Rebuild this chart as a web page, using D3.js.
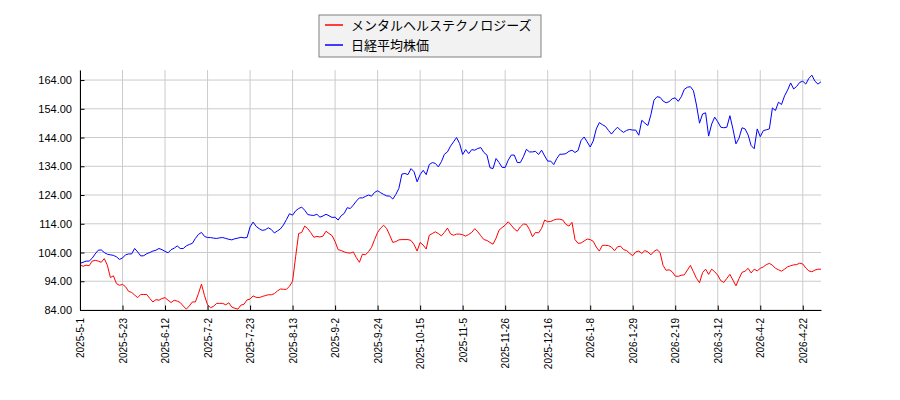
<!DOCTYPE html>
<html>
<head>
<meta charset="utf-8">
<script src="https://cdn.jsdelivr.net/npm/d3@7"></script>
<style>
  body { margin: 0; background: #fff; }
  svg { display: block; font-family: "DejaVu Sans", sans-serif; }
</style>
</head>
<body>
<div id="chart"></div>
<script>
// trading-day index on the x axis, one tick label every 14 sessions
const tickIndex = [0, 14, 28, 42, 56, 70, 84, 98, 112, 126, 140, 154, 168, 182, 196, 210, 224, 238]
const tickLabels = ['2025-5-1', '2025-5-23', '2025-6-12', '2025-7-2', '2025-7-23', '2025-8-13',
  '2025-9-2', '2025-9-24', '2025-10-15', '2025-11-5', '2025-11-26', '2025-12-16',
  '2026-1-8', '2026-1-29', '2026-2-19', '2026-3-12', '2026-4-2', '2026-4-22']
const yTicks = [84, 94, 104, 114, 124, 134, 144, 154, 164]

const seriesNames = ['メンタルヘルステクノロジーズ', '日経平均株価']
const seriesColors = ['#ff0000', '#0000ff']

const mentalHealth = [
  99.8, 99.2, 99.6, 99.4, 101.0, 101.3, 101.0, 100.6, 101.9, 99.6,
  95.3, 95.9, 93.2, 92.6, 92.9, 92.1, 90.5, 90.1, 89.2, 88.3,
  89.4, 89.4, 89.4, 88.0, 86.8, 87.6, 87.4, 88.0, 88.3, 87.4,
  86.6, 87.4, 87.1, 86.6, 85.4, 84.3, 85.4, 86.8, 86.8, 89.7,
  93.0, 89.0, 85.8, 84.8, 85.3, 86.3, 86.3, 86.3, 85.8, 86.5,
  85.0, 84.6, 84.3, 85.7, 86.0, 87.5, 87.8, 88.9, 88.4, 88.3,
  88.7, 89.0, 89.3, 89.3, 89.7, 90.6, 91.3, 91.2, 91.2, 92.3,
  94.0, 102.5, 110.6, 111.0, 113.2, 112.3, 110.9, 109.3, 109.6, 109.4,
  109.7, 111.4, 110.6, 109.9, 107.8, 105.0, 104.7, 104.2, 103.9, 103.8,
  104.2, 102.2, 100.6, 103.4, 103.2, 104.3, 105.8, 108.5, 111.0, 112.5,
  113.5, 112.3, 110.0, 107.5, 107.8, 108.4, 108.5, 108.5, 108.5, 108.2,
  106.8, 104.5, 107.5, 106.6, 105.2, 110.0, 110.6, 111.2, 110.6, 109.8,
  111.0, 112.5, 110.5, 110.0, 110.4, 110.4, 110.2, 109.7, 110.3, 111.0,
  112.3, 111.2, 109.8, 108.5, 108.2, 107.5, 106.9, 109.0, 111.8, 112.7,
  113.5, 114.7, 113.5, 112.2, 111.4, 112.9, 113.9, 113.8, 112.0, 109.5,
  111.0, 110.8, 112.4, 115.3, 114.7, 114.8, 115.3, 115.6, 115.6, 115.3,
  113.8, 113.2, 114.5, 108.5, 107.2, 107.3, 108.0, 108.7, 108.5, 107.9,
  105.9, 104.5, 106.5, 106.5, 106.4, 105.9, 104.6, 106.0, 106.2, 105.0,
  104.7, 103.7, 102.9, 104.2, 104.5, 103.7, 104.7, 104.2, 103.2, 104.4,
  105.0, 104.0, 99.5, 97.8, 98.0, 97.3, 95.8, 95.7, 96.1, 96.2,
  97.9, 99.5, 97.3, 95.0, 93.5, 97.0, 98.2, 96.4, 98.2, 97.3,
  96.1, 94.2, 93.6, 95.0, 96.4, 94.4, 92.4, 94.9, 97.1, 97.5,
  98.5, 96.9, 98.2, 97.6, 98.5, 99.0, 99.8, 100.2, 99.6, 98.5,
  98.0, 97.5, 98.2, 99.0, 99.4, 99.7, 99.8, 100.3, 100.0, 98.6,
  97.6, 97.3, 97.9, 98.2, 98.2
]

const nikkei = [
  100.2, 100.6, 101.0, 101.0, 102.0, 103.5, 104.8, 104.9, 104.0, 103.4,
  103.2, 103.0, 102.5, 101.6, 102.1, 103.2, 103.5, 103.5, 105.4, 104.2,
  102.8, 102.9, 103.6, 104.0, 104.5, 104.8, 105.4, 105.0, 104.4, 103.9,
  105.0, 105.5, 106.3, 105.4, 105.4, 106.3, 106.8, 107.2, 108.9, 110.3,
  111.0, 109.6, 109.2, 109.2, 109.0, 108.9, 109.1, 109.2, 108.9, 108.6,
  108.4, 108.8, 109.0, 109.3, 109.1, 109.2, 112.9, 114.6, 113.1, 112.3,
  111.7, 111.9, 112.6, 112.0, 110.8, 111.5, 112.2, 113.6, 115.5, 117.5,
  117.0, 118.5, 119.3, 119.8, 118.7, 117.2, 117.0, 116.9, 117.3, 116.3,
  116.7, 117.3, 116.8, 116.2, 116.3, 115.3, 116.8, 117.6, 119.6, 119.3,
  120.5, 121.9, 123.0, 123.0, 123.5, 124.0, 123.6, 124.9, 125.5, 124.8,
  124.2, 123.7, 123.6, 122.6, 124.2, 126.3, 131.3, 131.5, 131.1, 133.2,
  132.1, 128.6, 131.1, 132.6, 131.1, 134.6, 135.3, 135.0, 133.8, 135.6,
  138.2, 139.0, 141.0, 142.5, 144.0, 141.9, 138.1, 139.8, 138.4, 139.8,
  139.6, 140.2, 140.5, 138.8, 137.9, 133.5, 133.2, 136.7, 135.3, 133.6,
  133.6, 136.1, 137.9, 137.9, 135.3, 135.3, 137.3, 139.9, 139.0, 139.0,
  139.2, 138.1, 139.6, 137.6, 135.8, 135.8, 134.6, 136.7, 138.2, 138.2,
  138.4, 139.2, 139.6, 138.8, 139.5, 143.0, 144.2, 142.5, 140.7, 142.8,
  147.0, 149.2, 148.5, 147.9, 146.5, 145.2, 146.5, 147.6, 146.5, 145.8,
  146.5, 146.8, 146.6, 146.6, 144.8, 150.0, 149.0, 148.2, 152.0, 157.0,
  158.2, 158.0, 156.7, 156.1, 156.5, 157.5, 157.8, 156.6, 158.2, 160.8,
  161.5, 161.7, 160.3, 155.3, 149.0, 152.2, 152.6, 144.5, 148.7, 151.1,
  149.5, 147.6, 147.4, 147.6, 151.6, 147.0, 141.8, 143.8, 147.4, 147.0,
  144.9, 141.2, 140.1, 147.0, 144.3, 146.4, 146.7, 147.0, 154.3, 153.4,
  156.3, 155.5, 158.5, 160.5, 163.0, 160.9, 161.8, 163.2, 163.6, 162.6,
  164.6, 165.7, 163.6, 162.6, 163.4
]

const width = 900
const height = 400
const margin = { top: 70, right: 79, bottom: 90, left: 80 }

const svg = d3.select('#chart')
  .append('svg')
  .attr('width', width)
  .attr('height', height)

const x = d3.scaleLinear()
  .domain([0, nikkei.length - 1])
  .range([margin.left, width - margin.right])

const y = d3.scaleLinear()
  .domain([84, 167.5])
  .range([height - margin.bottom, margin.top])

// grid
svg.append('g')
  .selectAll('line')
  .data(tickIndex)
  .enter()
  .append('line')
  .attr('x1', d => x(d)).attr('x2', d => x(d))
  .attr('y1', margin.top).attr('y2', height - margin.bottom)
  .attr('stroke', '#cbcbcb')
  .attr('stroke-width', 1)

svg.append('g')
  .selectAll('line')
  .data(yTicks)
  .enter()
  .append('line')
  .attr('x1', margin.left).attr('x2', width - margin.right)
  .attr('y1', d => y(d)).attr('y2', d => y(d))
  .attr('stroke', '#cbcbcb')
  .attr('stroke-width', 1)

const line = d3.line()
  .x((d, i) => x(i))
  .y(d => y(d))

const seriesData = [mentalHealth, nikkei]
seriesData.forEach((values, k) => {
  svg.append('path')
    .datum(values)
    .attr('fill', 'none')
    .attr('stroke', seriesColors[k])
    .attr('stroke-width', 1)
    .attr('stroke-linejoin', 'round')
    .attr('d', line)
})

// axes, ticks point into the plot
const yAxis = svg.append('g')
  .attr('transform', `translate(${margin.left},0)`)
  .call(d3.axisLeft(y).tickValues(yTicks).tickFormat(d3.format('.2f')).tickSize(-4.5).tickSizeOuter(0).tickPadding(8))
yAxis.select('.domain').attr('stroke', '#000')
yAxis.selectAll('text').attr('font-size', 11).attr('fill', '#000')

const xAxis = svg.append('g')
  .attr('transform', `translate(0,${height - margin.bottom})`)
  .call(d3.axisBottom(x).tickValues(tickIndex).tickFormat((d, i) => tickLabels[i]).tickSize(-4.5).tickSizeOuter(0))
xAxis.select('.domain').attr('stroke', '#000')
xAxis.selectAll('text')
  .attr('font-size', 10)
  .attr('fill', '#000')
  .attr('x', 0)
  .attr('y', 0)
  .attr('dy', '0.35em')
  .attr('text-anchor', 'end')
  .attr('transform', 'translate(0,8) rotate(-90)')

// legend
const legend = svg.append('g').attr('transform', 'translate(319,15)')
legend.append('rect')
  .attr('width', 222)
  .attr('height', 42)
  .attr('fill', '#f2f2f2')
  .attr('stroke', '#808080')
  .attr('stroke-width', 1)

seriesNames.forEach((name, k) => {
  const row = legend.append('g').attr('transform', `translate(0,${10 + k * 20})`)
  row.append('line')
    .attr('x1', 6).attr('x2', 24)
    .attr('y1', 0).attr('y2', 0)
    .attr('stroke', seriesColors[k])
    .attr('stroke-width', 1.5)
  row.append('text')
    .attr('x', 32)
    .attr('y', 0)
    .attr('dy', '0.35em')
    .attr('font-size', 13)
    .attr('font-family', '"Noto Sans CJK JP", sans-serif')
    .attr('fill', '#000')
    .text(name)
})
</script>
</body>
</html>
